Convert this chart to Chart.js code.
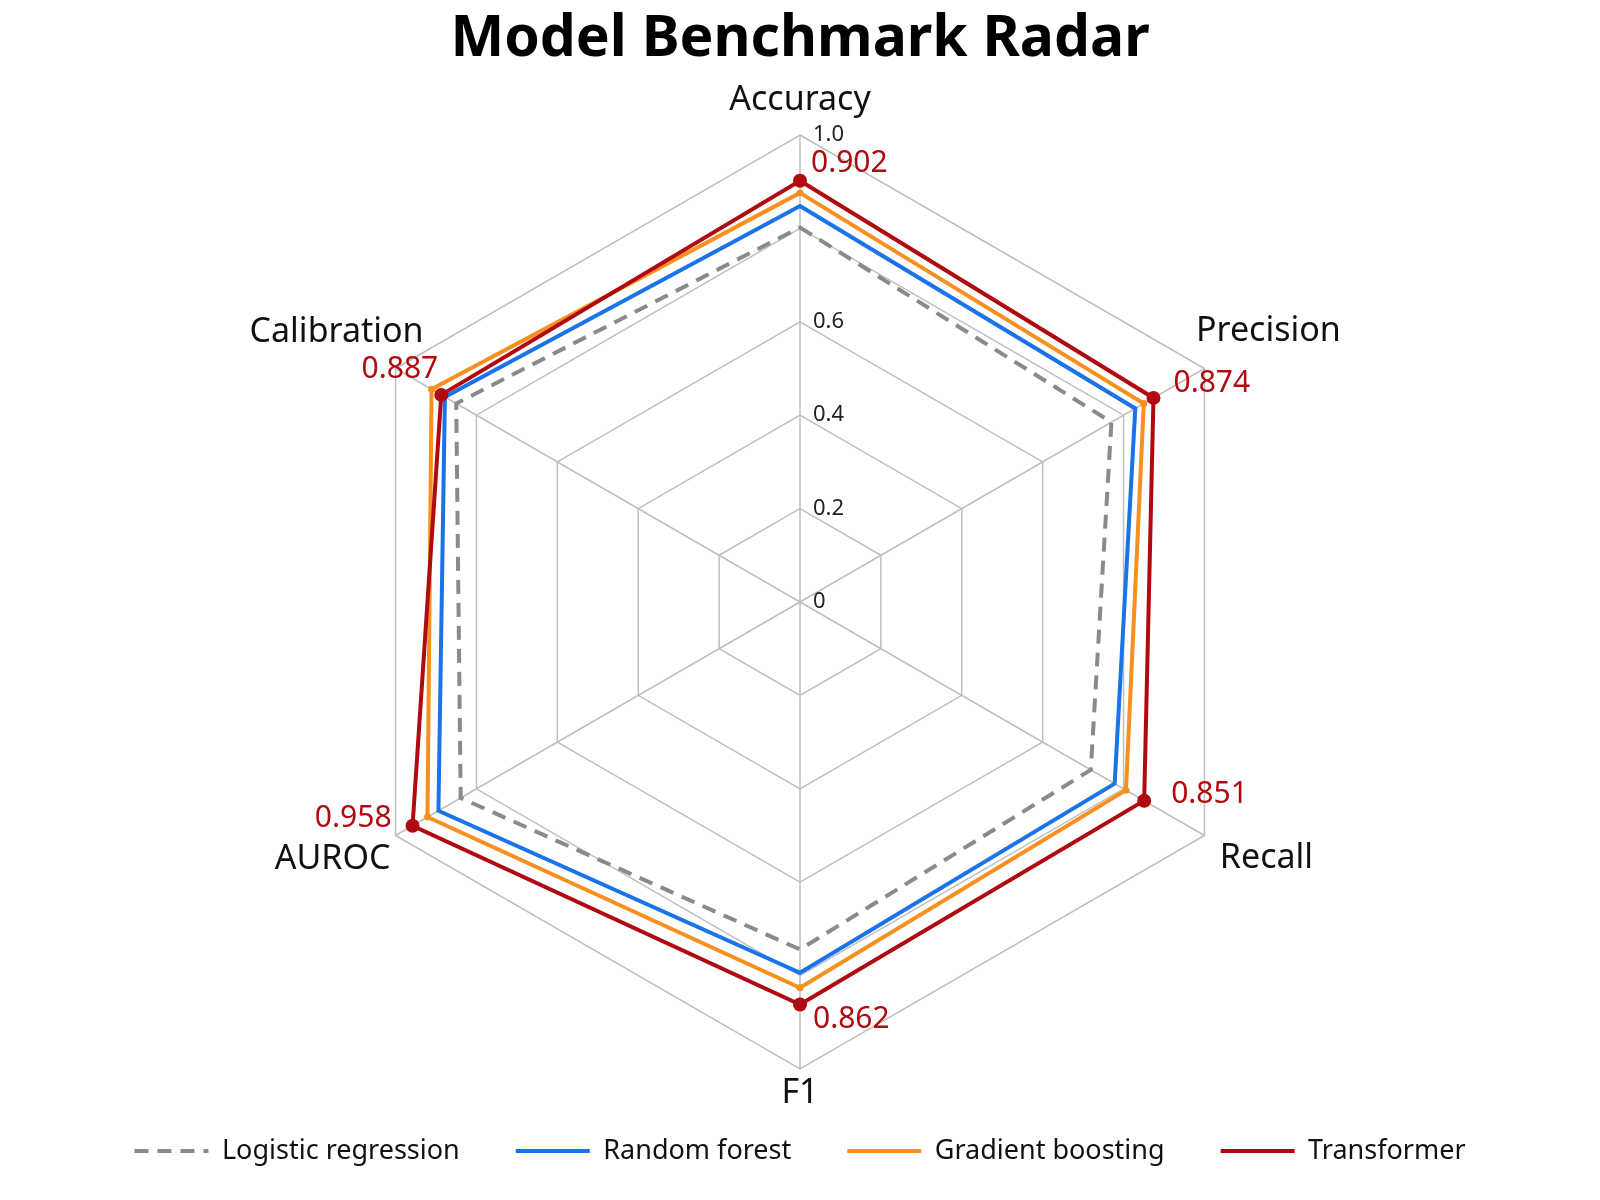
<!DOCTYPE html>
<html>
<head>
<meta charset="utf-8">
<title>Model Benchmark Radar</title>
<script src="https://cdn.jsdelivr.net/npm/chart.js@4.4.1/dist/chart.umd.min.js"></script>
<style>
  html, body { margin: 0; padding: 0; background: #fff; }
  #wrap { width: 1600px; height: 1200px; position: relative; }
</style>
</head>
<body>
<div id="wrap"><canvas id="radarChart"></canvas></div>
<script>
const metrics = ['Accuracy', 'Precision', 'Recall', 'F1', 'AUROC', 'Calibration'];
const logisticRegression = [0.802, 0.770, 0.719, 0.744, 0.839, 0.850];
const randomForest = [0.848, 0.829, 0.778, 0.794, 0.894, 0.878];
const gradientBoosting = [0.876, 0.850, 0.806, 0.826, 0.921, 0.911];
const transformer = [0.902, 0.874, 0.851, 0.862, 0.958, 0.887];
const tickValues = [0, 0.2, 0.4, 0.6, 0.8, 1.0];
const tickLabels = ['0', '0.2', '0.4', '0.6', '', '1.0'];

const FONT = "'Noto Sans', 'DejaVu Sans', sans-serif";
const RED = '#b0090f';

Chart.defaults.font.family = FONT;
Chart.defaults.color = '#111';

// metric names, tick labels and the transformer value labels
const radarText = {
  id: 'radarText',
  beforeDatasetsDraw(chart) {
    const scale = chart.scales.r;
    const ctx = chart.ctx;
    ctx.save();
    ctx.font = `22px ${FONT}`;
    ctx.fillStyle = '#222';
    ctx.textAlign = 'left';
    ctx.textBaseline = 'middle';
    tickValues.forEach((v, i) => {
      if (!tickLabels[i]) return;
      const y = scale.yCenter - scale.getDistanceFromCenterForValue(v);
      ctx.fillText(tickLabels[i], scale.xCenter + 13, y);
    });
    ctx.restore();
  },
  afterDatasetsDraw(chart, args, opts) {
    const scale = chart.scales.r;
    const ctx = chart.ctx;
    ctx.save();
    ctx.font = `34px ${FONT}`;
    ctx.fillStyle = '#111';
    ctx.textAlign = 'center';
    ctx.textBaseline = 'middle';
    metrics.forEach((name, i) => {
      const p = scale.getPointPosition(i, scale.drawingArea);
      const o = opts.nameOffsets[i];
      ctx.fillText(name, p.x + o[0], p.y + o[1]);
    });

    const meta = chart.getDatasetMeta(opts.labelDataset);
    const values = chart.data.datasets[opts.labelDataset].data;
    ctx.font = `30px ${FONT}`;
    ctx.fillStyle = RED;
    meta.data.forEach((pt, i) => {
      const o = opts.valueOffsets[i];
      ctx.textAlign = o[2];
      ctx.fillText(values[i].toFixed(3), pt.x + o[0], pt.y + o[1]);
    });
    ctx.restore();
  }
};

new Chart(document.getElementById('radarChart'), {
  type: 'radar',
  data: {
    labels: metrics,
    datasets: [
      {
        label: 'Logistic regression',
        data: logisticRegression,
        borderColor: '#8a8a8a',
        backgroundColor: '#8a8a8a',
        borderDash: [14, 9],
        borderWidth: 4,
        pointRadius: 0,
        fill: false,
        order: 3
      },
      {
        label: 'Random forest',
        data: randomForest,
        borderColor: '#1a73e8',
        backgroundColor: '#1a73e8',
        borderWidth: 4,
        pointRadius: 0,
        fill: false,
        order: 2
      },
      {
        label: 'Gradient boosting',
        data: gradientBoosting,
        borderColor: '#f7901e',
        backgroundColor: '#f7901e',
        borderWidth: 4,
        pointRadius: 3.5,
        pointBorderWidth: 0,
        fill: false,
        order: 1
      },
      {
        label: 'Transformer',
        data: transformer,
        borderColor: RED,
        backgroundColor: RED,
        borderWidth: 4,
        pointRadius: 7,
        pointBorderWidth: 0,
        fill: false,
        order: 0
      }
    ]
  },
  options: {
    responsive: true,
    maintainAspectRatio: false,
    animation: false,
    layout: { padding: { top: 0, bottom: 25.5, left: 0, right: 0 } },
    elements: { line: { tension: 0 } },
    scales: {
      r: {
        min: 0,
        max: 1,
        ticks: { stepSize: 0.2, display: false },
        pointLabels: { display: false },
        grid: { color: '#bfbfbf', lineWidth: 1.5 },
        angleLines: { color: '#bfbfbf', lineWidth: 1.5 }
      }
    },
    plugins: {
      title: {
        display: true,
        text: 'Model Benchmark Radar',
        color: '#000',
        font: { size: 57, weight: 'bold', lineHeight: 1.2 },
        padding: { top: 6, bottom: 60.6 }
      },
      legend: {
        position: 'bottom',
        title: { display: true, text: '', font: { size: 10, lineHeight: 1.25 }, padding: 0 },
        labels: {
          usePointStyle: true,
          pointStyle: 'line',
          pointStyleWidth: 74,
          padding: 56,
          color: '#111',
          font: { size: 27 },
          sort: (a, b) => a.datasetIndex - b.datasetIndex,
          generateLabels(chart) {
            const items = Chart.defaults.plugins.legend.labels.generateLabels(chart);
            items.forEach(item => {
              const ds = chart.data.datasets[item.datasetIndex];
              item.lineWidth = ds.borderWidth;
              item.lineDash = ds.borderDash || [];
              item.strokeStyle = ds.borderColor;
              item.pointStyle = 'line';
            });
            return items;
          }
        }
      },
      tooltip: { enabled: false },
      radarText: {
        labelDataset: 3,
        nameOffsets: [[0, -35], [64, -37], [62, 23], [0, 24], [-63, 24], [-59, -36]],
        valueOffsets: [[11, -17, 'left'], [20, -14, 'left'], [27, -6, 'left'],
                       [13, 15, 'left'], [-21, -7, 'right'], [-3, -25, 'right']]
      }
    }
  },
  plugins: [radarText]
});
</script>
</body>
</html>
